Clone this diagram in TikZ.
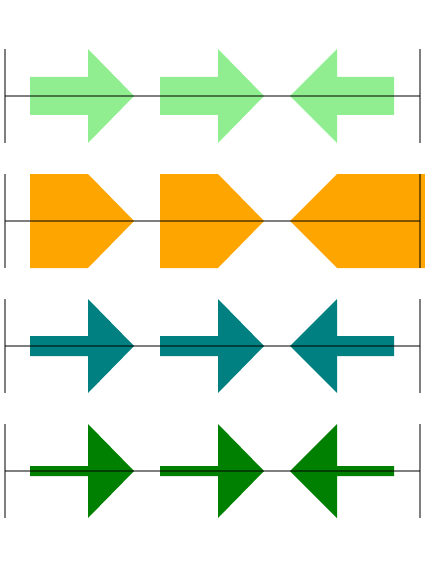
\documentclass[tikz,border=0pt]{standalone}
\definecolor{lightgreen}{HTML}{90EE90}
\definecolor{darkgreen}{HTML}{008000}
\definecolor{arroworange}{HTML}{FFA500}
\definecolor{arrowteal}{HTML}{008080}
\tikzset{
  axis line/.style={line width=1.6pt, black, opacity=0.5},
}
\begin{document}
\begin{tikzpicture}[x=1pt, y=-1pt]
        \useasboundingbox (0,0) rectangle (425,567);

        % First row: light green arrows, wide shaft
        \fill[lightgreen] (30,77) -- (88,77) -- (88,49) -- (134,96) -- (88,143) -- (88,115) -- (30,115) -- cycle;
        \fill[lightgreen] (160,77) -- (218,77) -- (218,49) -- (264,96) -- (218,143) -- (218,115) -- (160,115) -- cycle;
        \fill[lightgreen] (394,77) -- (337,77) -- (337,49) -- (290,96) -- (337,143) -- (337,115) -- (394,115) -- cycle;
        \draw[axis line] (5,96) -- (420,96);
        \draw[axis line] (5,49) -- (5,143);
        \draw[axis line] (420,49) -- (420,143);

        % Second row: orange arrows, shaft as wide as head
        \fill[arroworange] (30,174) -- (88,174) -- (134,221) -- (88,268) -- (30,268) -- cycle;
        \fill[arroworange] (160,174) -- (218,174) -- (264,221) -- (218,268) -- (160,268) -- cycle;
        \fill[arroworange] (425,174) -- (337,174) -- (290,221) -- (337,268) -- (425,268) -- cycle;
        \draw[axis line] (5,221) -- (420,221);
        \draw[axis line] (5,174) -- (5,268);
        \draw[axis line] (420,174) -- (420,268);

        % Third row: teal arrows, medium shaft
        \fill[arrowteal] (30,336) -- (88,336) -- (88,299) -- (134,346) -- (88,393) -- (88,356) -- (30,356) -- cycle;
        \fill[arrowteal] (160,336) -- (218,336) -- (218,299) -- (264,346) -- (218,393) -- (218,356) -- (160,356) -- cycle;
        \fill[arrowteal] (394,336) -- (337,336) -- (337,299) -- (290,346) -- (337,393) -- (337,356) -- (394,356) -- cycle;
        \draw[axis line] (5,346) -- (420,346);
        \draw[axis line] (5,299) -- (5,393);
        \draw[axis line] (420,299) -- (420,393);

        % Fourth row: green arrows, thin shaft
        \fill[darkgreen] (30,466) -- (88,466) -- (88,424) -- (134,471) -- (88,518) -- (88,476) -- (30,476) -- cycle;
        \fill[darkgreen] (160,466) -- (218,466) -- (218,424) -- (264,471) -- (218,518) -- (218,476) -- (160,476) -- cycle;
        \fill[darkgreen] (394,466) -- (337,466) -- (337,424) -- (290,471) -- (337,518) -- (337,476) -- (394,476) -- cycle;
        \draw[axis line] (5,471) -- (420,471);
        \draw[axis line] (5,424) -- (5,518);
        \draw[axis line] (420,424) -- (420,518);
    \end{tikzpicture}
\end{document}
